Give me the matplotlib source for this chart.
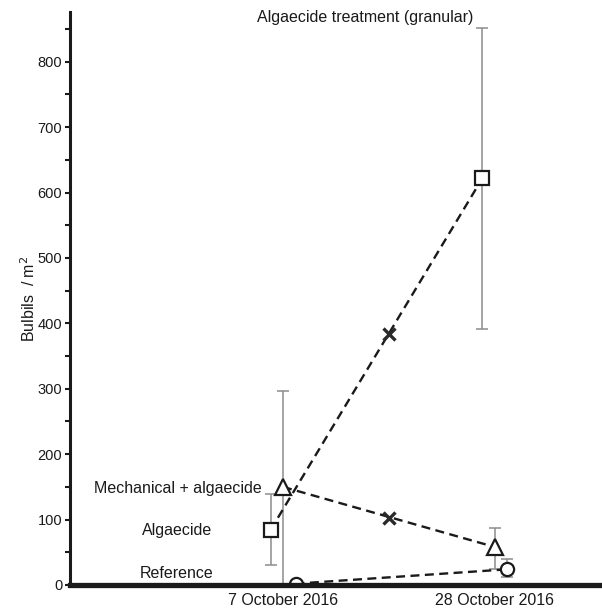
import numpy as np
import matplotlib
matplotlib.use("Agg")
import matplotlib.pyplot as plt
from matplotlib.ticker import MultipleLocator

plt.rcParams['font.family'] = ['Liberation Sans', 'DejaVu Sans']

# Data
dates = ['7 October 2016', '28 October 2016']

algae_mean = [84, 622]
algae_low = [31, 392]
algae_high = [139, 852]

mech_mean = [150, 58]
mech_low = [0, 24]
mech_high = [296, 87]

ref_mean = [2, 24]
ref_low = [2, 12]
ref_high = [2, 40]

cross_values = [384, 102]   # "x" marks half-way along the algaecide and mechanical lines

labels = ['Algaecide', 'Mechanical + algaecide', 'Reference']

fig = plt.figure(figsize=(6.02, 6.08), dpi=100)
ax = fig.add_axes([70/602, 23/608, 532/602, 573/608])

xpos = np.arange(len(dates))
dodge = 0.059
ink = '#1a1a1a'
errc = '#8c8c8c'

series = [
    (algae_mean, algae_low, algae_high, 's', -dodge, 10),
    (mech_mean, mech_low, mech_high, '^', 0.0, 12),
    (ref_mean, ref_low, ref_high, 'o', dodge, 9.5),
]

for mean, low, high, mk, off, ms in series:
    m = np.array(mean)
    yerr = [m - np.array(low), np.array(high) - m]
    ax.errorbar(xpos + off, m, yerr=yerr, fmt='none', ecolor=errc,
                elinewidth=1.1, capsize=4, capthick=1.1, zorder=2)
    ax.plot(xpos + off, m, color=ink, linestyle=(0, (3.8, 2.3)), lw=1.7, zorder=3)
    ax.plot(xpos + off, m, linestyle='none', marker=mk, ms=ms, mfc='white',
            mec=ink, mew=1.6, zorder=4)

ax.plot([0.5, 0.5], cross_values, linestyle='none', marker='x', ms=8,
        mew=2.4, color='#2a2a2a', zorder=5)

# treatment labels
ax.text(0.896, 867, 'Algaecide treatment (granular)', ha='right', va='center', fontsize=11.5, color=ink)
ax.text(-0.1, 148, labels[1], ha='right', va='center', fontsize=11.5, color=ink)
ax.text(-0.335, 83, labels[0], ha='right', va='center', fontsize=11.5, color=ink)
ax.text(-0.33, 18, labels[2], ha='right', va='center', fontsize=11.5, color=ink)

ax.set_xlim(-1.005, 1.505)
ax.set_ylim(0, 876)
ax.set_xticks(xpos)
ax.set_xticklabels(dates, fontsize=11.5, color=ink)
ax.tick_params(axis='x', length=0, pad=6)

ax.yaxis.set_major_locator(MultipleLocator(100))
ax.yaxis.set_minor_locator(MultipleLocator(50))
ax.tick_params(axis='y', which='both', direction='out', length=3.5, width=1.5,
               color=ink, labelsize=10.5, labelcolor=ink, pad=2)
ax.set_ylabel('Bulbils  / m$^2$', fontsize=11.5, color=ink, labelpad=0)

ax.spines['top'].set_visible(False)
ax.spines['right'].set_visible(False)
ax.spines['left'].set_linewidth(2.2)
ax.spines['left'].set_color(ink)
ax.spines['bottom'].set_linewidth(3.8)
ax.spines['bottom'].set_color(ink)
ax.spines['bottom'].set_zorder(6)

fig.savefig('out.png', dpi=100)
